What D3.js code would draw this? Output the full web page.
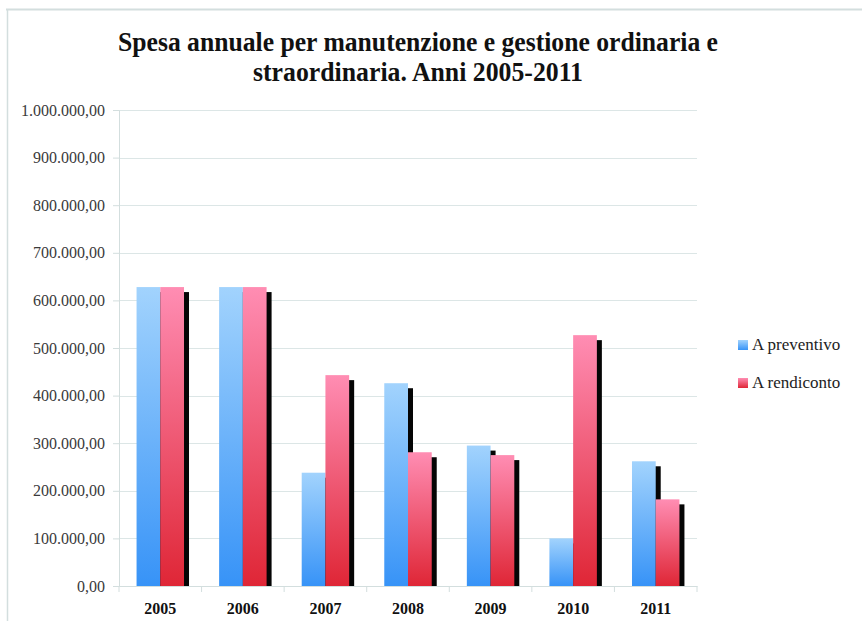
<!DOCTYPE html>
<html>
<head>
<meta charset="utf-8">
<script src="https://cdn.jsdelivr.net/npm/d3@7"></script>
<style>
  body { margin: 0; background: #fff; }
  svg { display: block; }
  svg text { font-family: "Liberation Serif", "DejaVu Serif", serif !important; }
</style>
</head>
<body>
<div id="chart"></div>
<script>
// data
let years = ["2005", "2006", "2007", "2008", "2009", "2010", "2011"];
let seriesNames = ["A preventivo", "A rendiconto"];
let preventivo = [628000, 628000, 238000, 426000, 295000, 100000, 262000];
let rendiconto = [628000, 628000, 443000, 281000, 275000, 527000, 182000];
let yTicks = [0, 100000, 200000, 300000, 400000, 500000, 600000, 700000, 800000, 900000, 1000000];
let titleLines = ["Spesa annuale per manutenzione e gestione ordinaria e", "straordinaria. Anni 2005-2011"];

const width = 862, height = 621;
const plot = {left: 119, right: 697, top: 110, bottom: 586};

let svg = d3.select("#chart").append("svg")
    .attr("width", width)
    .attr("height", height);

// gradients for the two series
let defs = svg.append("defs");
let gradColors = [["#a2d3fd", "#3793f7"], ["#ff8db3", "#df2636"]];
gradColors.forEach((c, i) => {
    let g = defs.append("linearGradient")
        .attr("id", "grad" + i)
        .attr("x1", 0).attr("y1", 0).attr("x2", 0).attr("y2", 1);
    g.append("stop").attr("offset", "0%").attr("stop-color", c[0]);
    g.append("stop").attr("offset", "100%").attr("stop-color", c[1]);
});

// frame of the chart area (only top and left visible)
svg.append("line").attr("x1", 6).attr("x2", width).attr("y1", 9.5).attr("y2", 9.5)
    .attr("stroke", "#d3dede").attr("stroke-width", 2);
svg.append("line").attr("x1", 7.5).attr("x2", 7.5).attr("y1", 9).attr("y2", height)
    .attr("stroke", "#d3dede").attr("stroke-width", 1.5);

// title
svg.append("g").selectAll("text")
    .data(titleLines)
    .enter()
    .append("text")
        .attr("x", 418)
        .attr("y", (d, i) => 51 + i * 30)
        .attr("text-anchor", "middle")
        .attr("font-size", 28)
        .attr("font-weight", "bold")
        .attr("fill", "#111")
        .attr("textLength", (d, i) => i == 0 ? 600 : 330)
        .attr("lengthAdjust", "spacingAndGlyphs")
        .text(d => d);

let x0 = d3.scaleBand().domain(years).range([plot.left, plot.right]);
let x1 = d3.scaleBand().domain(seriesNames).range([0, x0.bandwidth()]).paddingOuter(0.74);
let y = d3.scaleLinear().domain([0, 1000000]).range([plot.bottom, plot.top]);

let fmt = v => {
    let s = d3.format(",.2f")(v);
    return s.replace(/,/g, "#").replace(".", ",").replace(/#/g, ".");
};

// gridlines
svg.append("g")
    .selectAll("line")
    .data(yTicks)
    .enter()
    .append("line")
        .attr("x1", plot.left)
        .attr("x2", plot.right)
        .attr("y1", d => Math.round(y(d)) + 0.5)
        .attr("y2", d => Math.round(y(d)) + 0.5)
        .attr("stroke", "#dce6e6");

// y axis
let yAxis = svg.append("g")
    .attr("transform", `translate(${plot.left},0)`)
    .call(d3.axisLeft(y).tickValues(yTicks).tickFormat(fmt).tickSize(6).tickPadding(8));
yAxis.select(".domain").attr("stroke", "#d3dede");
yAxis.selectAll(".tick line").attr("stroke", "#d3dede");
yAxis.selectAll(".tick text")
    .attr("font-size", 16)
    .attr("fill", "#3a3a3a");

// x axis
let xAxis = svg.append("g")
    .attr("transform", `translate(0,${plot.bottom})`)
    .call(d3.axisBottom(x0).tickSize(0).tickPadding(17));
xAxis.select(".domain").attr("stroke", "#d3dede");
xAxis.selectAll(".tick text")
    .attr("font-size", 16)
    .attr("font-weight", "bold")
    .attr("fill", "#111");
svg.append("g")
    .selectAll("line")
    .data(d3.range(years.length + 1))
    .enter()
    .append("line")
        .attr("x1", i => plot.left + i * x0.step())
        .attr("x2", i => plot.left + i * x0.step())
        .attr("y1", plot.bottom)
        .attr("y2", plot.bottom + 6)
        .attr("stroke", "#d3dede");

// bars
let rows = years.map((yr, i) => ({year: yr, values: [preventivo[i], rendiconto[i]]}));
let group = svg.append("g")
    .selectAll("g")
    .data(rows)
    .enter()
    .append("g")
        .attr("transform", d => `translate(${x0(d.year)},0)`);

seriesNames.forEach((name, s) => {
    // drop shadow
    group.append("rect")
        .attr("x", x1(name) + 5)
        .attr("y", d => y(d.values[s]) + 5)
        .attr("width", x1.bandwidth())
        .attr("height", d => plot.bottom - y(d.values[s]) - 5)
        .attr("fill", "#050505");
    group.append("rect")
        .attr("x", x1(name))
        .attr("y", d => y(d.values[s]))
        .attr("width", x1.bandwidth())
        .attr("height", d => plot.bottom - y(d.values[s]))
        .attr("fill", `url(#grad${s})`);
});

// legend
let legend = svg.append("g")
    .selectAll("g")
    .data(seriesNames)
    .enter()
    .append("g")
        .attr("transform", (d, i) => `translate(738,${340 + i * 38})`);
legend.append("rect")
    .attr("width", 10)
    .attr("height", 10)
    .attr("fill", (d, i) => `url(#grad${i})`);
legend.append("text")
    .attr("x", 14)
    .attr("y", 10)
    .attr("font-size", 17)
    .attr("fill", "#222")
    .text(d => d);
</script>
</body>
</html>
